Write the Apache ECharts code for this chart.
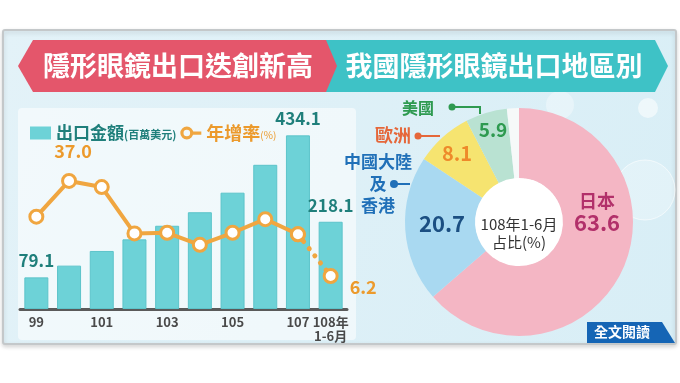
<!DOCTYPE html>
<html>
<head>
<meta charset="utf-8">
<script src="https://cdn.jsdelivr.net/npm/echarts@6/dist/echarts.min.js"></script>
<style>
html,body{margin:0;padding:0;background:#ffffff;}
#chart{width:680px;height:383px;}
</style>
</head>
<body>
<div id="chart"></div>
<script>
// ---- data ----
const categories = ['99','100','101','102','103','104','105','106','107','108年\n1-6月'];
const exportValues = [79.1, 108.4, 145.1, 174.1, 208.1, 241.9, 290.8, 360.5, 434.1, 218.1];
const growthRates = [25.4, 37.0, 35.0, 20.0, 20.2, 16.3, 20.2, 24.6, 19.7, 6.2];
const regions = ['日本', '中國大陸及香港', '歐洲', '美國', '其他'];
const shares = [63.6, 20.7, 8.1, 5.9, 1.7];
const titleLeft = '隱形眼鏡出口迭創新高';
const titleRight = '我國隱形眼鏡出口地區別';
const seriesNames = ['出口金額', '年增率'];
const pieCenterText = '108年1-6月\n占比(%)';

const FONT = "'Noto Sans CJK TC', 'Noto Sans', sans-serif";
const TEAL_DARK = '#1f7f7b';
const ORANGE = '#f0a640';
const ORANGE_TXT = '#ec9a2c';

const barLabelIdx = [0, 8, 9];
const lineLabelIdx = { 1: {position:'top', distance: 13, offset:[4,0]}, 9: {position:'right', distance: 11, offset:[0,11]} };

const barData = exportValues.map((v, i) => barLabelIdx.includes(i) ? {
  value: v,
  label: {show: true, position: 'top', distance: 8, color: TEAL_DARK, fontSize: 17, fontWeight: 'bold', fontFamily: FONT}
} : v);

function lineLabel(i) {
  return Object.assign({show: true, color: ORANGE_TXT, fontSize: 18, fontWeight: 'bold', fontFamily: FONT, formatter: p => p.value.toFixed(1)}, lineLabelIdx[i]);
}
const solidLine = growthRates.map((v, i) => {
  if (i > 8) return '-';
  if (lineLabelIdx[i]) return {value: v, label: lineLabel(i)};
  return v;
});
const dotLine = growthRates.map((v, i) => {
  if (i < 8) return '-';
  if (lineLabelIdx[i]) return {value: v, label: lineLabel(i)};
  return v;
});

const pieColors = ['#f4b6c4', '#a9d9f1', '#f6e470', '#b9e2d2', '#f6f9f9'];
const pieLabelColors = ['#b2306a', '#1b4f82', '#ee8a2a', '#2e9a50', '#999'];
const pieLabelPos = [[597, 213], [442, 224], [457, 153], [493, 130], [0, 0]];
const pieData = shares.map((v, i) => ({
  name: regions[i], value: v,
  itemStyle: {color: pieColors[i]}
}));

const outerLabelColor = {3: '#2e9a50', 2: '#e5673a', 1: '#2070b8'};

const chart = echarts.init(document.getElementById('chart'), null, {renderer: 'canvas'});

function banner(points, color, z) {
  return {type: 'polygon', shape: {points: points}, style: {fill: color}, z: z};
}

const graphic = [
  {type: 'rect', shape: {x: 3, y: 30, width: 673, height: 314, r: 2},
   style: {fill: new echarts.graphic.LinearGradient(0, 0, 1, 1, [{offset: 0, color: '#e3f2f8'}, {offset: 1, color: '#d8eef6'}]),
           stroke: '#c4c8ca', lineWidth: 2, shadowBlur: 4, shadowColor: 'rgba(0,0,0,0.15)', shadowOffsetY: 2}, z: -20},
  {type: 'rect', shape: {x: 18, y: 108, width: 338, height: 232, r: 4},
   style: {fill: 'rgba(255,255,255,0.55)'}, z: -19},
  {type: 'circle', shape: {cx: 648, cy: 108, r: 10}, style: {fill: 'rgba(255,255,255,0.55)'}, z: -18},
  {type: 'circle', shape: {cx: 645, cy: 190, r: 30}, style: {fill: 'rgba(255,255,255,0.25)', stroke: 'rgba(255,255,255,0.6)', lineWidth: 1}, z: -18},
  {type: 'circle', shape: {cx: 560, cy: 105, r: 14}, style: {fill: 'rgba(255,255,255,0.35)'}, z: -18},
  banner([[320, 40], [655, 40], [668, 66], [655, 92], [320, 92]], '#3ec2c6', 1),
  banner([[33, 40], [326, 40], [337, 66], [326, 92], [33, 92], [18, 66]], '#e4566b', 2),
  {type: 'text', x: 178, y: 66, z: 5, style: {text: titleLeft, fill: '#fff', font: 'bold 27px ' + FONT, align: 'center', verticalAlign: 'middle'}},
  {type: 'text', x: 494, y: 66, z: 5, style: {text: titleRight, fill: '#fff', font: 'bold 27px ' + FONT, align: 'center', verticalAlign: 'middle'}},
  {type: 'circle', shape: {cx: 519, cy: 222, r: 45}, style: {fill: '#ffffff', stroke: '#d9dcdc', lineWidth: 1.5, lineDash: [2, 2]}, z: 1},
  {type: 'text', x: 519, y: 233, z: 10, style: {text: pieCenterText, fill: '#333', font: '15px ' + FONT, align: 'center', verticalAlign: 'middle', lineHeight: 18}},
  {type: 'text', x: 418, y: 108, z: 10, style: {text: regions[3], fill: outerLabelColor[3], font: 'bold 16px ' + FONT, align: 'center', verticalAlign: 'middle'}},
  {type: 'circle', shape: {cx: 452, cy: 107, r: 3.5}, style: {fill: outerLabelColor[3]}, z: 10},
  {type: 'polyline', shape: {points: [[452, 107], [480, 107], [480, 114]]}, style: {stroke: outerLabelColor[3], lineWidth: 2, fill: null}, z: 10},
  {type: 'text', x: 393, y: 135, z: 10, style: {text: regions[2], fill: outerLabelColor[2], font: 'bold 18px ' + FONT, align: 'center', verticalAlign: 'middle'}},
  {type: 'circle', shape: {cx: 418, cy: 136, r: 3.5}, style: {fill: outerLabelColor[2]}, z: 10},
  {type: 'line', shape: {x1: 418, y1: 136, x2: 440, y2: 136}, style: {stroke: outerLabelColor[2], lineWidth: 2}, z: 10},
  {type: 'text', x: 378, y: 184, z: 10, style: {text: regions[1].replace('及', '\n及\n'), fill: outerLabelColor[1], font: 'bold 17px ' + FONT, align: 'center', verticalAlign: 'middle', lineHeight: 22}},
  {type: 'circle', shape: {cx: 394, cy: 184, r: 4}, style: {fill: outerLabelColor[1]}, z: 10},
  {type: 'line', shape: {x1: 394, y1: 184, x2: 410, y2: 184}, style: {stroke: outerLabelColor[1], lineWidth: 2}, z: 10},
  {type: 'polygon', shape: {points: [[587, 322], [662, 322], [675, 343], [587, 343]]}, style: {fill: '#1565b5'}, z: 10},
  {type: 'text', x: 622, y: 332, z: 11, style: {text: '全文閱讀', fill: '#fff', font: 'bold 14px ' + FONT, align: 'center', verticalAlign: 'middle'}}
];

const ringLineIcon = 'path://M0,6.5A6.5,6.5,0,1,1,13,6.5A6.5,6.5,0,1,1,0,6.5ZM3.2,6.5A3.3,3.3,0,1,0,9.8,6.5A3.3,3.3,0,1,0,3.2,6.5ZM12.5,5L21,5L21,8.2L12.5,8.2Z';

const option = {
  animation: false,
  textStyle: {fontFamily: FONT},
  graphic: graphic,
  legend: {
    left: 25, top: 119,
    itemWidth: 21, itemHeight: 13, itemGap: 4,
    data: [
      {name: seriesNames[0], icon: 'rect', itemStyle: {color: '#6dd2d7', borderWidth: 0}},
      {name: seriesNames[1], icon: ringLineIcon, itemStyle: {color: ORANGE, borderWidth: 0}}
    ],
    formatter: name => name === seriesNames[0] ? '{a|' + name + '}{s|(百萬美元)}' : '{b|' + name + '}{t|(%)}',
    textStyle: {
      fontFamily: FONT,
      rich: {
        a: {color: TEAL_DARK, fontSize: 17, fontWeight: 'bold', fontFamily: FONT},
        s: {color: TEAL_DARK, fontSize: 11, fontWeight: 'bold', fontFamily: FONT, padding: [3, 0, 0, 0]},
        b: {color: ORANGE_TXT, fontSize: 18, fontWeight: 'bold', fontFamily: FONT},
        t: {color: ORANGE_TXT, fontSize: 10, fontFamily: FONT, padding: [5, 0, 0, 0]}
      }
    }
  },
  grid: {left: 20, right: 333, top: 109, bottom: 74, containLabel: false},
  xAxis: {
    type: 'category', data: categories,
    axisTick: {show: false},
    axisLine: {lineStyle: {color: '#5a5a5a', width: 3}},
    axisLabel: {
      interval: (i) => i % 2 === 0 || i === categories.length - 1,
      color: '#4a4a4a', fontSize: 13, fontWeight: 'bold', fontFamily: FONT, margin: 6, lineHeight: 14
    }
  },
  yAxis: [
    {type: 'value', min: 0, max: 500, show: false, splitLine: {show: false}},
    {type: 'value', min: -4.5, max: 60.3, show: false, splitLine: {show: false}}
  ],
  series: [
    {
      name: seriesNames[0], type: 'bar', data: barData, barWidth: 24,
      itemStyle: {color: '#6dd2d7', borderColor: '#5cc4ca', borderWidth: 1},
      z: 2
    },
    {
      name: seriesNames[1], type: 'line', yAxisIndex: 1, data: dotLine,
      lineStyle: {color: ORANGE, width: 5, type: [0.1, 9], cap: 'round'},
      symbol: 'circle', symbolSize: 13,
      itemStyle: {color: '#ffffff', borderColor: ORANGE, borderWidth: 3},
      z: 3
    },
    {
      name: seriesNames[1], type: 'line', yAxisIndex: 1, data: solidLine,
      lineStyle: {color: ORANGE, width: 4},
      symbol: 'circle', symbolSize: 13, showAllSymbol: true,
      itemStyle: {color: '#ffffff', borderColor: ORANGE, borderWidth: 3},
      z: 4
    },
    {
      type: 'pie', center: [519, 222], radius: [44, 114],
      startAngle: 90, clockwise: true, silent: true,
      data: pieData,
      itemStyle: {borderWidth: 0},
      label: {
        show: true, position: 'inside',
        formatter: p => p.dataIndex === 0 ? '{n|' + p.name + '}\n{v|' + p.value.toFixed(1) + '}' : (p.dataIndex === 4 ? '' : '{v' + p.dataIndex + '|' + p.value.toFixed(1) + '}'),
        rich: {
          n: {color: pieLabelColors[0], fontSize: 18, fontWeight: 'bold', fontFamily: FONT, align: 'center', lineHeight: 20},
          v: {color: pieLabelColors[0], fontSize: 22, fontWeight: 'bold', fontFamily: FONT, align: 'center', lineHeight: 24},
          v1: {color: pieLabelColors[1], fontSize: 22, fontWeight: 'bold', fontFamily: FONT},
          v2: {color: pieLabelColors[2], fontSize: 20, fontWeight: 'bold', fontFamily: FONT},
          v3: {color: pieLabelColors[3], fontSize: 19, fontWeight: 'bold', fontFamily: FONT}
        }
      },
      labelLayout: p => ({x: pieLabelPos[p.dataIndex][0], y: pieLabelPos[p.dataIndex][1], align: 'center', verticalAlign: 'middle'}),
      labelLine: {show: false},
      z: 2
    }
  ]
};
chart.setOption(option);
</script>
</body>
</html>
